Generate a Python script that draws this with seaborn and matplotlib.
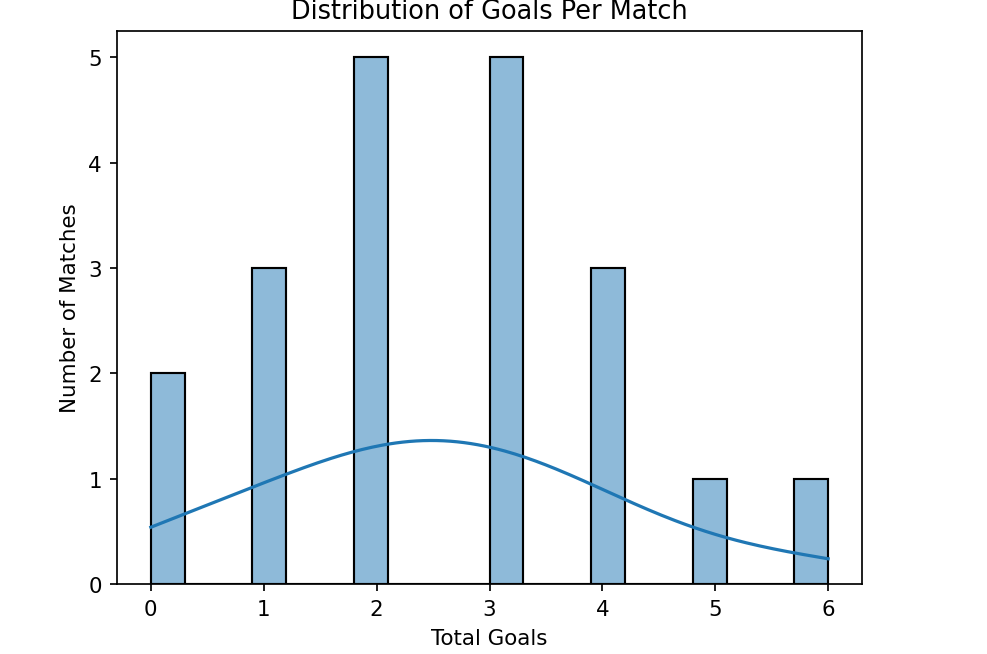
import matplotlib
matplotlib.use("Agg")
import matplotlib.pyplot as plt
import seaborn as sns
import numpy as np
import pandas as pd

# goals per match and how many matches had that total
goal_values = [0, 1, 2, 3, 4, 5, 6]
match_counts = [2, 3, 5, 5, 3, 1, 1]

df = pd.DataFrame({"total_goals": np.repeat(goal_values, match_counts)})

fig = plt.figure(figsize=(987 / 154, 655 / 154), dpi=154)
ax = fig.add_axes([117 / 987, 1 - 585 / 655, (862 - 117) / 987, (585 - 32) / 655])

sns.histplot(data=df, x="total_goals", bins=20, kde=True, ax=ax)

ax.set_title("Distribution of Goals Per Match")
ax.set_xlabel("Total Goals")
ax.set_ylabel("Number of Matches")

fig.savefig("out.png", dpi=154)
